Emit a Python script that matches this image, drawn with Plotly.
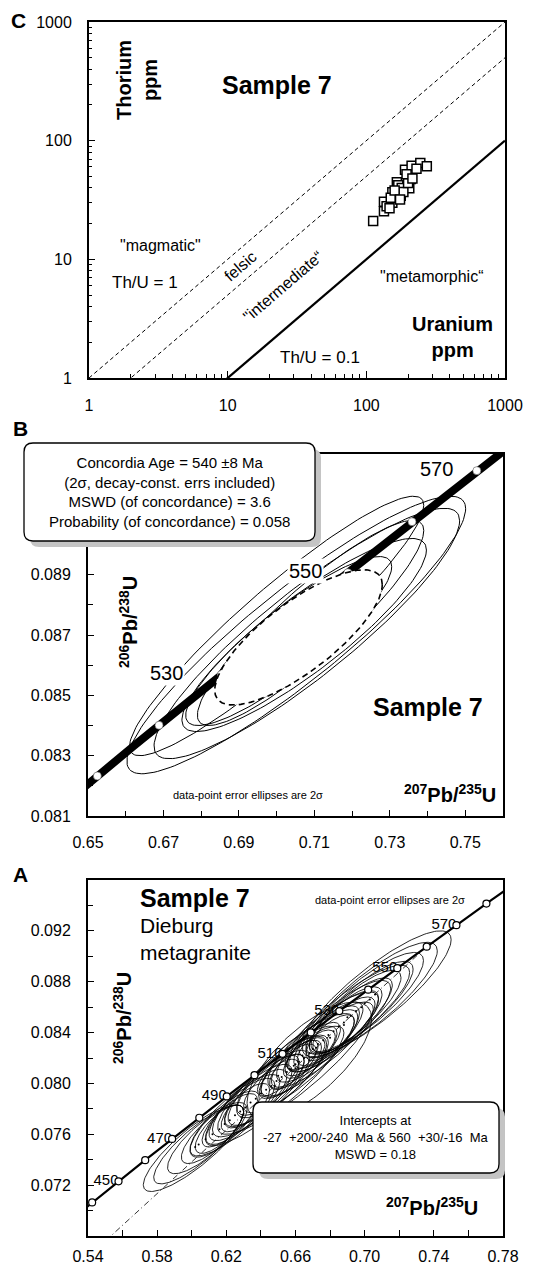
import numpy as np
import plotly.graph_objects as go

W, H = 539, 1267
FONT = "Liberation Sans, Arial, sans-serif"

# ---------------- Panel C data (Th vs U, ppm) ----------------
U_ppm = [112, 134, 134, 140, 154, 154, 150, 166, 177, 170, 180, 190, 204, 209,
         212, 245, 273, 185, 200, 160, 147, 175, 195, 215, 230]
Th_ppm = [21, 25.4, 30.6, 28, 30, 36.7, 33, 44.6, 34.4, 42, 40, 57, 39.7, 47.5,
          61.6, 64.9, 60.8, 37, 44, 38, 27, 32, 52, 48, 58]
ThU_ratios = [1.0, 0.5, 0.1]
U_line = [1, 1000]

# ---------------- U-Pb decay constants ----------------
L238 = 1.55125e-10
L235 = 9.8485e-10

# ---------------- Panel B data (concordant ellipses, 2 sigma) ----------------
B_cx = [0.7052, 0.7080, 0.7073, 0.7032, 0.7000, 0.7090]
B_sx = [0.0449, 0.0405, 0.0324, 0.0273, 0.0390, 0.0300]
B_cy = [0.08700, 0.08705, 0.08700, 0.08680, 0.08730, 0.08740]
B_sy = [0.00460, 0.00415, 0.00320, 0.00280, 0.00430, 0.00340]
B_rho = [0.91, 0.90, 0.88, 0.88, 0.93, 0.90]
B_mean = dict(cx=0.7058, sx=0.0222, cy=0.08692, sy=0.00224, rho=0.78)
B_tick_ages = [500, 510, 520, 530, 540, 550, 560, 570, 580]
B_label_ages = [530, 550, 570]
B_label_shift = [-36, -24, -22]
B_curve_ages = [480, 600]

# ---------------- Panel A data (all ellipses, 2 sigma) ----------------
A_cx = [0.706, 0.703, 0.700, 0.698, 0.695, 0.692, 0.690, 0.688, 0.685, 0.682,
        0.679, 0.676, 0.673, 0.670, 0.668, 0.665, 0.662, 0.660, 0.657, 0.655,
        0.652, 0.649, 0.646, 0.643, 0.640, 0.637, 0.634, 0.631, 0.628, 0.625,
        0.622, 0.619, 0.616, 0.612, 0.608, 0.604, 0.602, 0.660, 0.648, 0.668,
        0.664, 0.672, 0.659, 0.680, 0.650, 0.688]
A_cy = [0.0870, 0.0866, 0.0863, 0.0860, 0.0857, 0.0853, 0.0852, 0.0848, 0.0845, 0.0841,
        0.0838, 0.0834, 0.0831, 0.0827, 0.0824, 0.0820, 0.0817, 0.0815, 0.0811, 0.0809,
        0.0805, 0.0802, 0.0798, 0.0795, 0.0792, 0.0788, 0.0785, 0.0781, 0.0778, 0.0775,
        0.0771, 0.0768, 0.0764, 0.0760, 0.0756, 0.0752, 0.0750, 0.0812, 0.0798, 0.0818,
        0.0822, 0.0828, 0.0814, 0.0836, 0.0806, 0.0846]
A_sx = [0.044, 0.039, 0.034, 0.030, 0.026, 0.024, 0.036, 0.022, 0.030, 0.026,
        0.020, 0.032, 0.024, 0.016, 0.028, 0.012, 0.022, 0.034, 0.018, 0.010,
        0.026, 0.030, 0.016, 0.022, 0.028, 0.018, 0.024, 0.014, 0.020, 0.026,
        0.016, 0.020, 0.014, 0.018, 0.022, 0.026, 0.030, 0.045, 0.040, 0.036,
        0.009, 0.011, 0.013, 0.014, 0.012, 0.018]
A_sy = [0.0050, 0.0045, 0.0040, 0.0036, 0.0032, 0.0030, 0.0041, 0.0028, 0.0036, 0.0032,
        0.0026, 0.0038, 0.0030, 0.0021, 0.0034, 0.0016, 0.0028, 0.0040, 0.0023, 0.0014,
        0.0032, 0.0036, 0.0021, 0.0028, 0.0034, 0.0023, 0.0030, 0.0019, 0.0026, 0.0032,
        0.0021, 0.0026, 0.0019, 0.0023, 0.0027, 0.0031, 0.0035, 0.0052, 0.0047, 0.0046,
        0.0012, 0.0014, 0.0017, 0.0018, 0.0016, 0.0022]
A_rho = [0.86, 0.85, 0.84, 0.83, 0.82, 0.81, 0.86, 0.79, 0.83, 0.82,
         0.78, 0.84, 0.81, 0.75, 0.83, 0.67, 0.80, 0.85, 0.77, 0.62,
         0.81, 0.84, 0.75, 0.80, 0.83, 0.77, 0.82, 0.73, 0.79, 0.83,
         0.76, 0.79, 0.73, 0.78, 0.81, 0.84, 0.85, 0.89, 0.89, 0.72,
         0.60, 0.65, 0.70, 0.72, 0.70, 0.75]
A_tick_ages = [430, 440, 450, 460, 470, 480, 490, 500, 510, 520, 530, 540, 550,
               560, 570, 580, 590]
A_label_ages = [450, 470, 490, 510, 530, 550, 570]
A_curve_ages = [420, 600]
intercepts_ma = [-27, 560]

# tick labels
C_ticks = [1, 10, 100, 1000]
B_xticks = [0.65, 0.67, 0.69, 0.71, 0.73, 0.75]
B_yticks = [0.081, 0.083, 0.085, 0.087, 0.089]
A_xticks = [0.54, 0.58, 0.62, 0.66, 0.70, 0.74, 0.78]
A_yticks = [0.072, 0.076, 0.080, 0.084, 0.088, 0.092]


def conc(ages):
    t = np.asarray(ages, dtype=float) * 1e6
    return np.exp(L235 * t) - 1, np.exp(L238 * t) - 1


def conc_curve(a0, a1, n=300):
    return conc(np.linspace(a0, a1, n))


def ellipse(cx, cy, sx, sy, rho, n=160):
    t = np.linspace(0, 2 * np.pi, n)
    x = cx + sx * np.cos(t)
    y = cy + sy * (rho * np.cos(t) + np.sqrt(1 - rho ** 2) * np.sin(t))
    return x, y


def px(x):
    return x / W


def py(y):
    return 1 - y / H


fig = go.Figure()

# ================= Panel C (xaxis3 / yaxis3) =================
for r, dash, wdt in zip(ThU_ratios, ["dash", "dash", "solid"], [1, 1, 2.2]):
    fig.add_trace(go.Scatter(x=U_line, y=[u * r for u in U_line], mode="lines",
                             line=dict(color="black", width=wdt, dash="4px,3px" if dash == "dash" else "solid"),
                             xaxis="x3", yaxis="y3", showlegend=False, hoverinfo="skip"))
fig.add_trace(go.Scatter(x=U_ppm, y=Th_ppm, mode="markers",
                         marker=dict(symbol="square", size=9, color="white",
                                     line=dict(color="black", width=1.5)),
                         xaxis="x3", yaxis="y3", showlegend=False))

# ================= Panel B (xaxis2 / yaxis2) =================
for i in range(len(B_cx)):
    ex, ey = ellipse(B_cx[i], B_cy[i], B_sx[i], B_sy[i], B_rho[i])
    fig.add_trace(go.Scatter(x=ex, y=ey, mode="lines", line=dict(color="black", width=1),
                             xaxis="x2", yaxis="y2", showlegend=False, hoverinfo="skip"))
cbx, cby = conc_curve(*B_curve_ages)
fig.add_trace(go.Scatter(x=cbx, y=cby, mode="lines", line=dict(color="black", width=8),
                         xaxis="x2", yaxis="y2", showlegend=False, hoverinfo="skip"))
tbx, tby = conc(B_tick_ages)
fig.add_trace(go.Scatter(x=tbx, y=tby, mode="markers",
                         marker=dict(symbol="circle", size=8, color="white",
                                     line=dict(color="#555", width=0.6)),
                         xaxis="x2", yaxis="y2", showlegend=False, hoverinfo="skip"))
mx, my = ellipse(**B_mean)
fig.add_trace(go.Scatter(x=mx, y=my, mode="lines", fill="toself", fillcolor="white",
                         line=dict(color="black", width=1.6, dash="6px,4px"),
                         xaxis="x2", yaxis="y2", showlegend=False, hoverinfo="skip"))

# ================= Panel A (xaxis / yaxis) =================
lx, ly = conc(A_label_ages)
fig.add_trace(go.Scatter(x=lx, y=ly, mode="text", text=[str(a) for a in A_label_ages],
                         textposition="middle left",
                         textfont=dict(family=FONT, size=15, color="black"),
                         xaxis="x", yaxis="y", showlegend=False, hoverinfo="skip"))
dx, dy = conc(intercepts_ma)
fig.add_trace(go.Scatter(x=dx, y=dy, mode="lines",
                         line=dict(color="black", width=0.8, dash="6px,3px,1px,3px"),
                         xaxis="x", yaxis="y", showlegend=False, hoverinfo="skip"))
for i in range(len(A_cx)):
    ex, ey = ellipse(A_cx[i], A_cy[i], A_sx[i], A_sy[i], A_rho[i])
    fig.add_trace(go.Scatter(x=ex, y=ey, mode="lines", line=dict(color="black", width=0.85),
                             xaxis="x", yaxis="y", showlegend=False, hoverinfo="skip"))
fig.add_trace(go.Scatter(x=A_cx, y=A_cy, mode="markers", marker=dict(size=2, color="black"),
                         xaxis="x", yaxis="y", showlegend=False, hoverinfo="skip"))
cax, cay = conc_curve(*A_curve_ages)
fig.add_trace(go.Scatter(x=cax, y=cay, mode="lines", line=dict(color="black", width=2.2),
                         xaxis="x", yaxis="y", showlegend=False, hoverinfo="skip"))
tax, tay = conc(A_tick_ages)
fig.add_trace(go.Scatter(x=tax, y=tay, mode="markers",
                         marker=dict(symbol="circle", size=7, color="white",
                                     line=dict(color="black", width=1.2)),
                         xaxis="x", yaxis="y", showlegend=False, hoverinfo="skip"))

# ================= Axes =================
tickfont = dict(family=FONT, size=16, color="black")
common = dict(showline=True, linewidth=2, linecolor="black", mirror=True,
              ticks="inside", tickcolor="black", tickwidth=1.2, showgrid=False,
              zeroline=False, tickfont=tickfont, automargin=False)

minorC = [m * d for d in [1, 10, 100] for m in [2, 3, 4, 5, 6, 7, 8, 9]]
fig.update_layout(
    xaxis3=dict(common, type="log", range=[0, 3], domain=[px(89), px(505)],
                tickvals=C_ticks, ticktext=[str(v) for v in C_ticks], ticklen=7,
                minor=dict(tickvals=minorC, ticklen=4, ticks="inside", tickcolor="black"),
                anchor="y3", ticklabelstandoff=12),
    yaxis3=dict(common, type="log", range=[0, 3], domain=[py(378), py(22)],
                tickvals=C_ticks, ticktext=[str(v) for v in C_ticks], ticklen=6,
                minor=dict(tickvals=minorC, ticklen=3, ticks="inside", tickcolor="black"),
                anchor="x3", ticklabelstandoff=12),
    xaxis2=dict(common, range=[0.65, 0.76], domain=[px(88), px(503)],
                tickvals=B_xticks, ticktext=[f"{v:.2f}" for v in B_xticks], ticklen=6,
                minor=dict(dtick=0.01, tick0=0.65, ticklen=5, ticks="inside", tickcolor="black"),
                anchor="y2", ticklabelstandoff=11),
    yaxis2=dict(common, range=[0.081, 0.093], domain=[py(816), py(454)],
                tickvals=B_yticks, ticktext=[f"{v:.3f}" for v in B_yticks], ticklen=6,
                minor=dict(dtick=0.001, tick0=0.081, ticklen=5, ticks="inside", tickcolor="black"),
                anchor="x2", ticklabelstandoff=12),
    xaxis=dict(common, range=[0.54, 0.78], domain=[px(88), px(503)],
               tickvals=A_xticks, ticktext=[f"{v:.2f}" for v in A_xticks], ticklen=6,
               minor=dict(dtick=0.02, tick0=0.54, ticklen=6, ticks="inside", tickcolor="black"),
               anchor="y", ticklabelstandoff=5),
    yaxis=dict(common, range=[0.068, 0.096], domain=[py(1236), py(880)],
               tickvals=A_yticks, ticktext=[f"{v:.3f}" for v in A_yticks], ticklen=6,
               minor=dict(dtick=0.002, tick0=0.068, ticklen=5, ticks="inside", tickcolor="black"),
               anchor="x", ticklabelstandoff=12),
)


# ================= Boxes =================
def rrect(x0, y0, x1, y1, r=9):
    pts = [("M", [(x0 + r, y0)]), ("L", [(x1 - r, y0)]), ("Q", [(x1, y0), (x1, y0 + r)]),
           ("L", [(x1, y1 - r)]), ("Q", [(x1, y1), (x1 - r, y1)]), ("L", [(x0 + r, y1)]),
           ("Q", [(x0, y1), (x0, y1 - r)]), ("L", [(x0, y0 + r)]), ("Q", [(x0, y0), (x0 + r, y0)])]
    s = ""
    for cmd, ps in pts:
        s += cmd + " ".join(f"{px(a):.5f},{py(b):.5f}" for a, b in ps) + " "
    return s + "Z"


shapes = []
for (x0, y0, x1, y1) in [(24, 443, 315, 541), (253, 1102, 499, 1173)]:
    shapes.append(dict(type="path", path=rrect(x0 + 6, y0 + 6, x1 + 6, y1 + 6), xref="paper", yref="paper",
                       fillcolor="#c4c4c4", line=dict(width=0), layer="above"))
    shapes.append(dict(type="path", path=rrect(x0, y0, x1, y1), xref="paper", yref="paper",
                       fillcolor="white", line=dict(color="black", width=1.3), layer="above"))
fig.update_layout(shapes=shapes)

# ================= Annotations =================
ann = []


def T(x, y, text, size, bold=False, angle=0, xanchor="center", align="center", **kw):
    t = f"<b>{text}</b>" if bold else text
    ann.append(dict(x=px(x), y=py(y), xref="paper", yref="paper", text=t, showarrow=False,
                    font=dict(family=FONT, size=size, color="black"), textangle=angle,
                    xanchor=xanchor, yanchor="middle", align=align, **kw))


T(18, 21, "C", 21, bold=True)
T(20, 429, "B", 21, bold=True)
T(20, 874, "A", 21, bold=True)

# Panel C texts
T(277, 85, "Sample 7", 25, bold=True)
T(137, 80, "Thorium<br>ppm", 20, bold=True, angle=-90)
T(452, 337, "Uranium<br>ppm", 20, bold=True)
T(160, 245, '"magmatic"', 16)
T(145, 283, "Th/U = 1", 17)
T(240, 266, "felsic", 16, angle=-40.6)
T(283, 287, '"intermediate“', 16, angle=-40.6)
T(431, 276, '"metamorphic“', 16)
T(320, 358, "Th/U = 0.1", 17)

# Panel B texts
T(169, 492, "Concordia Age = 540 ±8 Ma<br>(2σ, decay-const. errs included)<br>"
            "MSWD (of concordance) = 3.6<br>Probability (of concordance) = 0.058", 15)
T(428, 707, "Sample 7", 25, bold=True)
T(128, 622, "<sup>206</sup>Pb/<sup>238</sup>U", 20, bold=True, angle=-90)
T(450, 793, "<sup>207</sup>Pb/<sup>235</sup>U", 20, bold=True)
T(248, 795, "data-point error ellipses are 2σ", 11)

bx, by = conc(B_label_ages)
for a, xx, yy, sh in zip(B_label_ages, bx, by, B_label_shift):
    ann.append(dict(x=xx, y=yy, xref="x2", yref="y2", text=str(a), showarrow=False,
                    font=dict(family=FONT, size=20, color="black"), bgcolor="white",
                    xanchor="right", yanchor="middle", xshift=sh, yshift=2))

# Panel A texts
T(138, 898, "Sample 7", 25, bold=True, xanchor="left")
T(138, 939, "Dieburg<br>metagranite", 21, xanchor="left", align="left")
T(390, 900, "data-point error ellipses are 2σ", 11)
T(122, 1018, "<sup>206</sup>Pb/<sup>238</sup>U", 20, bold=True, angle=-90)
T(432, 1206, "<sup>207</sup>Pb/<sup>235</sup>U", 20, bold=True)
NB = "\u00a0"
T(376, 1137, f"Intercepts at<br>-27{NB}{NB}+200/-240{NB}{NB}Ma & 560{NB}{NB}+30/-16{NB}{NB}Ma<br>MSWD = 0.18", 13)

fig.update_layout(annotations=ann, width=W, height=H,
                  margin=dict(l=0, r=0, t=0, b=0, pad=0, autoexpand=False),
                  plot_bgcolor="white", paper_bgcolor="white", showlegend=False)

fig.write_html("out.html", config={"displayModeBar": False},
               post_script="document.body.style.margin='0';")
